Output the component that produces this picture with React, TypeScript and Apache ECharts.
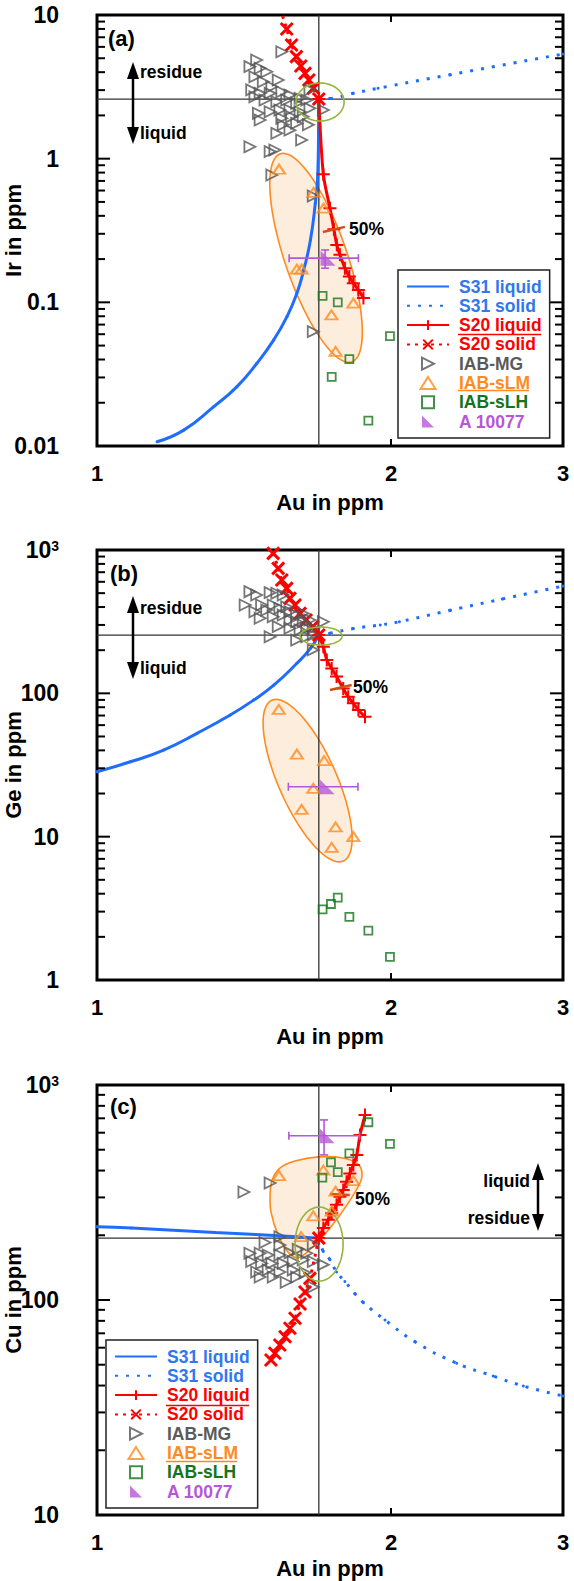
import React, { useEffect, useRef } from "react";
import * as echarts from "echarts";

// ---------------- data ----------------
const AU_MIN = 1;
const AU_MAX = 3;
const AU_REF = 1.687;
const X_TICK_LABELS = [1, 2, 3];
const X_INNER_TICKS = [2];

// (a) Ir in ppm
const A_Y_RANGE = [0.01, 10];
const A_Y_REF = 2.6;
const A_S31_LIQUID = [[1.152, 0.0107], [1.227, 0.0129], [1.317, 0.0188], [1.391, 0.0259], [1.458, 0.0377], [1.517, 0.0548], [1.565, 0.0795], [1.602, 0.1157], [1.628, 0.168], [1.654, 0.272], [1.673, 0.489], [1.683, 0.791], [1.686, 1.58], [1.687, 2.6]];
const A_S31_SOLID = [[1.687, 2.6], [1.73, 2.62], [1.83, 2.85], [1.94, 3.09], [2.3, 3.84], [3.0, 5.35]];
const A_S20_LIQUID = [[1.687, 2.6], [1.705, 0.779], [1.732, 0.452], [1.748, 0.323], [1.76, 0.251], [1.773, 0.214], [1.794, 0.173], [1.813, 0.151], [1.83, 0.136], [1.852, 0.122], [1.874, 0.107]];
const A_S20_SOLID = [[1.549, 9.84], [1.564, 7.99], [1.582, 6.18], [1.6, 5.13], [1.617, 4.42], [1.633, 3.92], [1.648, 3.53], [1.666, 3.1], [1.687, 2.6]];
const A_MG = [[1.546, 5.55], [1.457, 4.86], [1.434, 4.37], [1.469, 4.26], [1.492, 4.03], [1.533, 3.53], [1.451, 3.72], [1.48, 3.43], [1.51, 3.17], [1.44, 3.01], [1.469, 2.85], [1.504, 2.85], [1.546, 2.92], [1.576, 2.77], [1.614, 2.63], [1.652, 3.01], [1.451, 2.7], [1.486, 2.56], [1.528, 2.49], [1.564, 2.56], [1.601, 2.43], [1.64, 2.56], [1.705, 2.18], [1.463, 2.07], [1.504, 2.12], [1.539, 2.18], [1.576, 2.18], [1.614, 2.12], [1.652, 2.24], [1.469, 1.86], [1.546, 1.91], [1.582, 1.96], [1.626, 1.96], [1.551, 1.72], [1.601, 1.76], [1.646, 1.72], [1.528, 1.5], [1.576, 1.58], [1.62, 1.35], [1.434, 1.21], [1.504, 1.12], [1.521, 1.15], [1.51, 0.77], [1.665, 0.55], [1.665, 0.0625]];
const A_SLM = [[1.536, 0.844], [1.666, 0.582], [1.706, 0.452], [1.602, 0.17], [1.62, 0.17], [1.83, 0.0986], [1.738, 0.0817], [1.755, 0.0455]];
const A_SLH = [[1.702, 0.111], [1.764, 0.1], [1.995, 0.0581], [1.813, 0.0402], [1.739, 0.0303], [1.896, 0.015]];
const A_A10077 = [1.712, 0.203];
const A_ERR_AU = [1.573, 1.852];
const A_ERR_Y = [0.1727, 0.2315];
const A_MARK50 = [[1.703, 0.309], [1.794, 0.335]];
const A_FIELD_CENTER = [1.676, 0.204];
const A_RING_CENTER = [1.692, 2.48];

// (b) Ge in ppm
const B_Y_RANGE = [1, 1000];
const B_Y_REF = 255;
const B_S31_LIQUID = [[1.0, 28.4], [1.082, 33.3], [1.17, 40.2], [1.266, 52.6], [1.369, 70.6], [1.447, 89.8], [1.517, 114], [1.602, 162], [1.654, 206], [1.687, 255]];
const B_S31_SOLID = [[1.687, 255], [1.73, 262], [1.83, 283], [1.95, 300], [2.04, 316], [2.3, 380], [2.6, 455], [3.0, 560]];
const B_S20_LIQUID = [[1.687, 255], [1.705, 211], [1.719, 171], [1.739, 149], [1.759, 131], [1.787, 108], [1.808, 94.7], [1.83, 85.2], [1.852, 76.5], [1.881, 68.7]];
const B_S20_SOLID = [[1.515, 948], [1.533, 745], [1.546, 618], [1.564, 540], [1.576, 460], [1.595, 413], [1.614, 361], [1.637, 325], [1.663, 292], [1.687, 255]];
const B_MG = [[1.434, 512], [1.418, 413], [1.457, 485], [1.504, 504], [1.528, 499], [1.551, 485], [1.451, 371], [1.474, 413], [1.492, 381], [1.515, 413], [1.539, 392], [1.564, 402], [1.576, 371], [1.469, 334], [1.515, 342], [1.533, 292], [1.551, 352], [1.576, 325], [1.601, 352], [1.626, 361], [1.601, 316], [1.626, 316], [1.652, 325], [1.576, 284], [1.614, 277], [1.64, 284], [1.665, 284], [1.705, 316], [1.504, 248], [1.601, 235], [1.64, 248], [1.665, 255], [1.665, 201]];
const B_SLM = [[1.535, 77.3], [1.602, 37.7], [1.708, 33.9], [1.665, 21.7], [1.62, 15.5], [1.755, 11.7], [1.83, 9.99], [1.739, 8.42]];
const B_SLH = [[1.702, 3.11], [1.736, 3.39], [1.764, 3.75], [1.813, 2.76], [1.896, 2.21], [1.995, 1.45]];
const B_A10077 = [1.708, 22.3];
const B_ERR_AU = [1.57, 1.85];
const B_ERR_Y: number[] | null = null;
const B_MARK50 = [[1.732, 105.5], [1.823, 114.3]];
const B_FIELD_CENTER = [1.643, 24.6];
const B_RING_CENTER = [1.696, 251];

// (c) Cu in ppm
const C_Y_RANGE = [10, 1000];
const C_Y_REF = 194;
const C_S31_LIQUID = [[1.0, 219], [1.085, 216], [1.321, 206], [1.601, 197], [1.687, 194]];
const C_S31_SOLID = [[1.687, 194], [1.705, 168], [1.732, 154], [1.759, 135], [1.794, 122], [1.837, 107], [1.874, 97.2], [1.972, 80.7], [2.116, 64.0], [2.335, 50.8], [2.545, 44.3], [2.732, 39.8], [3.0, 35.8]];
const C_S20_LIQUID = [[1.687, 194], [1.705, 216], [1.725, 236], [1.739, 253], [1.759, 277], [1.773, 302], [1.787, 325], [1.801, 355], [1.815, 388], [1.83, 425], [1.845, 473], [1.859, 585], [1.881, 725]];
const C_S20_SOLID = [[1.687, 194], [1.652, 126], [1.633, 109], [1.614, 95.8], [1.595, 82.2], [1.576, 73.9], [1.558, 67.5], [1.539, 61.8], [1.521, 56.5], [1.507, 52.6]];
const C_MG = [[1.414, 318], [1.504, 350], [1.539, 197], [1.486, 185], [1.539, 180], [1.665, 182], [1.434, 165], [1.469, 165], [1.497, 162], [1.539, 162], [1.576, 166], [1.607, 172], [1.64, 165], [1.44, 151], [1.474, 148], [1.51, 148], [1.551, 148], [1.588, 151], [1.626, 154], [1.665, 151], [1.705, 146], [1.457, 135], [1.497, 138], [1.539, 135], [1.588, 138], [1.633, 134], [1.469, 128], [1.515, 128], [1.601, 128], [1.665, 115], [1.562, 121]];
const C_SLM = [[1.536, 379], [1.705, 402], [1.83, 359], [1.755, 321], [1.739, 259], [1.665, 246], [1.618, 197]];
const C_SLH = [[1.896, 671], [1.995, 532], [1.813, 481], [1.736, 437], [1.764, 393], [1.701, 371]];
const C_A10077 = [1.708, 581];
const C_ERR_AU = [1.572, 1.857];
const C_ERR_Y = [473, 688];
const C_MARK50 = [[1.732, 311], [1.815, 308]];
const C_FIELD_OUTLINE = [[1.511, 361], [1.539, 411], [1.595, 443], [1.684, 463], [1.786, 458], [1.85, 429], [1.868, 390], [1.859, 350], [1.803, 277], [1.732, 216], [1.66, 175], [1.606, 157], [1.569, 167], [1.532, 201], [1.507, 257], [1.504, 308]];
const C_RING_CENTER = [1.688, 182];

const LEGEND_NAMES = ["S31 liquid", "S31 solid", "S20 liquid", "S20 solid", "IAB-MG", "IAB-sLM", "IAB-sLH", "A 10077"];

// ---------------- styles / layout ----------------
const FONT = "'Liberation Sans', Arial, Helvetica, sans-serif";
const BLUE = "#1f6dff";
const BLUE_TXT = "#2f78ee";
const RED = "#ff0000";
const GRAY = "#555555";
const ORANGE = "#ff8a1e";
const GREEN = "#16741c";
const PURPLE = "#b657d8";
const BROWN = "#d0501a";
const OLIVE = "#93b53a";
const FIELD_FILL = "rgba(251, 210, 170, 0.4)";
const LEGEND_COLORS = [BLUE_TXT, BLUE_TXT, RED, RED, "#5a5a5a", ORANGE, GREEN, PURPLE];

const AX_LEFT = 97;
const AX_W = 466;
const GRID_TOPS = [15, 550, 1085];
const GRID_HS = [431, 430, 430];
const X_NAME_GAPS = [45, 45, 42];
const FIELD_SHAPES = [{ rx: 31, ry: 110, rot: 19 }, { rx: 29, ry: 88, rot: 24 }];
const RING_SHAPES = [{ rx: 24, ry: 19 }, { rx: 21, ry: 9 }, { rx: 24, ry: 37 }];

const SYM_TRI_RIGHT = "path://M0,0 L10,5 L0,10 Z";
const SYM_TRI_UP = "path://M5,0 L10,8 L0,8 Z";
const SYM_SQUARE = "path://M0,0 L10,0 L10,10 L0,10 Z";
const SYM_PLUS = "path://M5,0 L5,10 M0,5 L10,5";
const SYM_X = "path://M0,0 L10,10 M10,0 L0,10";
const SYM_CORNER = "path://M0,0 L0,10 L10,10 Z";

const PANELS = [
  { yName: "Ir in ppm", yRange: A_Y_RANGE, yRef: A_Y_REF, s31l: A_S31_LIQUID, s31s: A_S31_SOLID, s20l: A_S20_LIQUID, s20s: A_S20_SOLID, mg: A_MG, slm: A_SLM, slh: A_SLH, a10077: A_A10077, errAu: A_ERR_AU, errY: A_ERR_Y, mark50: A_MARK50, fieldCenter: A_FIELD_CENTER, fieldOutline: null as number[][] | null, ring: A_RING_CENTER },
  { yName: "Ge in ppm", yRange: B_Y_RANGE, yRef: B_Y_REF, s31l: B_S31_LIQUID, s31s: B_S31_SOLID, s20l: B_S20_LIQUID, s20s: B_S20_SOLID, mg: B_MG, slm: B_SLM, slh: B_SLH, a10077: B_A10077, errAu: B_ERR_AU, errY: B_ERR_Y, mark50: B_MARK50, fieldCenter: B_FIELD_CENTER, fieldOutline: null as number[][] | null, ring: B_RING_CENTER },
  { yName: "Cu in ppm", yRange: C_Y_RANGE, yRef: C_Y_REF, s31l: C_S31_LIQUID, s31s: C_S31_SOLID, s20l: C_S20_LIQUID, s20s: C_S20_SOLID, mg: C_MG, slm: C_SLM, slh: C_SLH, a10077: C_A10077, errAu: C_ERR_AU, errY: C_ERR_Y, mark50: C_MARK50, fieldCenter: null as number[] | null, fieldOutline: C_FIELD_OUTLINE, ring: C_RING_CENTER },
];

function ellipsePts(cx: number, cy: number, rx: number, ry: number, rotDeg: number) {
  const r = (rotDeg * Math.PI) / 180;
  const cs = Math.cos(r);
  const sn = Math.sin(r);
  const pts: number[][] = [];
  for (let k = 0; k < 90; k++) {
    const t = (k / 90) * 2 * Math.PI;
    const ex = rx * Math.cos(t);
    const ey = ry * Math.sin(t);
    pts.push([cx + ex * cs + ey * sn, cy - ex * sn + ey * cs]);
  }
  return pts;
}

function logTicks(min: number, max: number) {
  const out: number[][] = [];
  const e0 = Math.round(Math.log10(min));
  const e1 = Math.round(Math.log10(max));
  for (let e = e0; e < e1; e++) {
    for (let m = 1; m <= 9; m++) {
      if (m === 1 && e === e0) continue;
      out.push([Number((m * Math.pow(10, e)).toPrecision(3)), m === 1 ? 1 : 0]);
    }
  }
  return out;
}

function txtStyle(text: string, size: number, align: string, vAlign: string, color = "#000") {
  return {
    text,
    fill: color,
    fontSize: size,
    fontWeight: "bold",
    fontFamily: FONT,
    textAlign: align,
    align,
    textVerticalAlign: vAlign,
    verticalAlign: vAlign,
  };
}

function panelSeries(P: any, i: number) {
  const ax = { xAxisIndex: i, yAxisIndex: i };
  const [yMin, yMax] = P.yRange;
  const s: any[] = [];
  // composition field
  if (P.fieldCenter) {
    const f = FIELD_SHAPES[i];
    s.push({
      type: "custom", ...ax, name: "field", silent: true, z: 1,
      data: [P.fieldCenter],
      renderItem: (_p: any, api: any) => {
        const c = api.coord([api.value(0), api.value(1)]);
        return { type: "polygon", shape: { points: ellipsePts(c[0], c[1], f.rx, f.ry, f.rot) }, style: { fill: FIELD_FILL, stroke: ORANGE, lineWidth: 1.6 } };
      },
    });
  } else if (P.fieldOutline) {
    const outline = P.fieldOutline;
    s.push({
      type: "custom", ...ax, name: "field", silent: true, z: 1,
      data: outline,
      renderItem: (p: any, api: any) => {
        if (p.dataIndex !== 0) return null;
        return { type: "polygon", shape: { points: outline.map((q: number[]) => api.coord(q)), smooth: 0.35 }, style: { fill: FIELD_FILL, stroke: ORANGE, lineWidth: 1.6 } };
      },
    });
  }
  // reference cross
  s.push({ type: "line", ...ax, name: "ref-v", data: [[AU_REF, yMin], [AU_REF, yMax]], symbol: "none", silent: true, z: 2, lineStyle: { color: "#333", width: 1.3 } });
  s.push({ type: "line", ...ax, name: "ref-h", data: [[AU_MIN, P.yRef], [AU_MAX, P.yRef]], symbol: "none", silent: true, z: 2, lineStyle: { color: "#333", width: 1.3 } });
  // model curves
  s.push({ type: "line", ...ax, name: "S31 liquid", data: P.s31l, smooth: 0.5, symbol: "circle", symbolSize: 3, z: 3, lineStyle: { color: BLUE, width: 3 }, itemStyle: { color: BLUE } });
  s.push({ type: "line", ...ax, name: "S31 solid", data: P.s31s, smooth: 0.5, symbol: "circle", symbolSize: 3, z: 3, lineStyle: { color: BLUE, width: 3, type: [3, 8] }, itemStyle: { color: BLUE } });
  s.push({ type: "line", ...ax, name: "S20 liquid", data: P.s20l, smooth: 0.3, symbol: SYM_PLUS, symbolSize: 13, z: 3.2, lineStyle: { color: RED, width: 3 }, itemStyle: { color: RED, borderColor: RED, borderWidth: 2 } });
  s.push({
    type: "line", ...ax, name: "S20 solid", smooth: 0.3, symbol: SYM_X, symbolSize: 12, z: 3.2,
    data: P.s20s.map((d: number[], k: number) => (k === 0 && i === 0 ? { value: d, symbol: "none" } : d)),
    lineStyle: { color: RED, width: 3, type: [3, 5] }, itemStyle: { color: RED, borderColor: RED, borderWidth: 3 },
  });
  s.push({ type: "line", ...ax, name: "50% mark", data: P.mark50, symbol: "none", silent: true, z: 3.5, lineStyle: { color: BROWN, width: 2.5 } });
  // meteorites
  s.push({ type: "scatter", ...ax, name: "IAB-MG", data: P.mg, symbol: SYM_TRI_RIGHT, symbolSize: [11, 11], z: 4, itemStyle: { color: "rgba(255,255,255,0)", borderColor: GRAY, borderWidth: 1.8 } });
  s.push({ type: "scatter", ...ax, name: "IAB-sLM", data: P.slm, symbol: SYM_TRI_UP, symbolSize: [12, 9], z: 4, itemStyle: { color: "rgba(255,255,255,0)", borderColor: ORANGE, borderWidth: 2 } });
  s.push({ type: "scatter", ...ax, name: "IAB-sLH", data: P.slh, symbol: SYM_SQUARE, symbolSize: 8, z: 4, itemStyle: { color: "rgba(255,255,255,0)", borderColor: GREEN, borderWidth: 1.8 } });
  // green ring
  const rg = RING_SHAPES[i];
  s.push({
    type: "custom", ...ax, name: "ring", silent: true, z: 5, data: [P.ring],
    renderItem: (_p: any, api: any) => {
      const c = api.coord([api.value(0), api.value(1)]);
      return { type: "polygon", shape: { points: ellipsePts(c[0], c[1], rg.rx, rg.ry, 0) }, style: { fill: "none", stroke: OLIVE, lineWidth: 1.6 } };
    },
  });
  // error bars for A 10077
  const errRow = [P.a10077[0], P.a10077[1], P.errAu[0], P.errAu[1], P.errY ? P.errY[0] : P.a10077[1], P.errY ? P.errY[1] : P.a10077[1]];
  s.push({
    type: "custom", ...ax, name: "err", silent: true, z: 6, data: [errRow],
    renderItem: (_p: any, api: any) => {
      const x = api.value(0), y = api.value(1);
      const a = api.coord([api.value(2), y]);
      const b = api.coord([api.value(3), y]);
      const st = { stroke: PURPLE, lineWidth: 1.6 };
      const ch: any[] = [
        { type: "line", shape: { x1: a[0], y1: a[1], x2: b[0], y2: b[1] }, style: st },
        { type: "line", shape: { x1: a[0], y1: a[1] - 4, x2: a[0], y2: a[1] + 4 }, style: st },
        { type: "line", shape: { x1: b[0], y1: b[1] - 4, x2: b[0], y2: b[1] + 4 }, style: st },
      ];
      if (api.value(4) !== api.value(5)) {
        const c = api.coord([x, api.value(4)]);
        const d = api.coord([x, api.value(5)]);
        ch.push({ type: "line", shape: { x1: c[0], y1: c[1], x2: d[0], y2: d[1] }, style: st });
        ch.push({ type: "line", shape: { x1: c[0] - 4, y1: c[1], x2: c[0] + 4, y2: c[1] }, style: st });
        ch.push({ type: "line", shape: { x1: d[0] - 4, y1: d[1], x2: d[0] + 4, y2: d[1] }, style: st });
      }
      return { type: "group", children: ch };
    },
  });
  s.push({ type: "scatter", ...ax, name: "A 10077", data: [P.a10077], symbol: SYM_CORNER, symbolSize: 15, symbolOffset: [3, 0], z: 6.5, itemStyle: { color: PURPLE } });
  // inner ticks
  const tickData: number[][] = logTicks(yMin, yMax).map((t) => [AU_MIN, t[0], t[1]]);
  X_INNER_TICKS.forEach((v) => tickData.push([v, yMin, 2]));
  s.push({
    type: "custom", ...ax, name: "ticks", silent: true, z: 7, data: tickData,
    renderItem: (_p: any, api: any) => {
      const kind = api.value(2);
      const st = { stroke: "#000", lineWidth: 2 };
      if (kind === 2) {
        const b = api.coord([api.value(0), yMin]);
        const t = api.coord([api.value(0), yMax]);
        return {
          type: "group", children: [
            { type: "line", shape: { x1: b[0], y1: b[1], x2: b[0], y2: b[1] - 7 }, style: st },
            { type: "line", shape: { x1: t[0], y1: t[1], x2: t[0], y2: t[1] + 7 }, style: st },
          ],
        };
      }
      const v = api.value(1);
      const L = api.coord([AU_MIN, v]);
      const R = api.coord([AU_MAX, v]);
      const len = kind === 1 ? 13 : 8;
      return {
        type: "group", children: [
          { type: "line", shape: { x1: L[0], y1: L[1], x2: L[0] + len, y2: L[1] }, style: st },
          { type: "line", shape: { x1: R[0], y1: R[1], x2: R[0] - len, y2: R[1] }, style: st },
        ],
      };
    },
  });
  // x tick labels
  s.push({
    type: "custom", ...ax, name: "xlabels", silent: true, z: 7, data: X_TICK_LABELS.map((v) => [v, yMin]),
    renderItem: (_p: any, api: any) => {
      const p = api.coord([api.value(0), api.value(1)]);
      return { type: "text", x: p[0], y: p[1] + 16, style: txtStyle(String(api.value(0)), 22, "center", "top") };
    },
  });
  return s;
}

function legendAt(left: number, top: number) {
  return {
    left, top, orient: "vertical", z: 10,
    itemWidth: 42, itemHeight: 12, itemGap: 0.3,
    padding: [7, 8, 7, 8],
    borderColor: "#222", borderWidth: 1.5, backgroundColor: "#fff",
    selectedMode: false,
    symbolKeepAspect: true,
    textStyle: { fontSize: 17.5, fontWeight: "bold", fontFamily: FONT, lineHeight: 19, padding: [0, 0, 0, 5] },
    data: LEGEND_NAMES.map((n, k) => ({
      name: n,
      textStyle: { color: LEGEND_COLORS[k] },
      ...(n.startsWith("S31") ? { itemStyle: { opacity: 0 } } : {}),
    })),
  };
}

function arrow(x: number, top: number, bottom: number) {
  const hw = 6, hh = 17;
  return [
    { type: "line", z: 20, shape: { x1: x, y1: top + hh - 2, x2: x, y2: bottom - hh + 2 }, style: { stroke: "#000", lineWidth: 2.5 } },
    { type: "polygon", z: 20, shape: { points: [[x, top], [x - hw, top + hh], [x + hw, top + hh]] }, style: { fill: "#000" } },
    { type: "polygon", z: 20, shape: { points: [[x, bottom], [x - hw, bottom - hh], [x + hw, bottom - hh]] }, style: { fill: "#000" } },
  ];
}

function gtext(x: number, y: number, text: string, size: number, align = "left", color = "#000") {
  return { type: "text", x, y, z: 20, style: txtStyle(text, size, align, "middle", color) };
}

function underline(x: number, y: number, w: number, color: string) {
  return { type: "line", z: 20, shape: { x1: x, y1: y, x2: x + w, y2: y }, style: { stroke: color, lineWidth: 1.5 } };
}

function graphicElements() {
  return [
    gtext(108, 38, "(a)", 22),
    gtext(110, 573, "(b)", 22),
    gtext(110, 1106, "(c)", 22),
    ...arrow(133, 62, 144),
    gtext(140, 72, "residue", 17.5),
    gtext(140, 133, "liquid", 17.5),
    ...arrow(133, 596, 679),
    gtext(140, 608, "residue", 17.5),
    gtext(140, 668, "liquid", 17.5),
    ...arrow(538, 1163, 1231),
    gtext(530, 1181, "liquid", 17.5, "right"),
    gtext(530, 1218, "residue", 17.5, "right"),
    gtext(349, 229, "50%", 17.5),
    gtext(353, 687, "50%", 17.5),
    gtext(355, 1199, "50%", 17.5),
    underline(458, 334.5, 83, RED),
    underline(458, 390.5, 71, ORANGE),
    underline(166, 1405.5, 83, RED),
    underline(166, 1461.5, 71, ORANGE),
  ];
}

function buildOption() {
  const series: any[] = [];
  PANELS.forEach((P, i) => series.push(...panelSeries(P, i)));
  const nameStyle = { fontSize: 22, fontWeight: "bold", fontFamily: FONT, color: "#000" };
  return {
    animation: false,
    backgroundColor: "#fff",
    grid: GRID_TOPS.map((t, i) => ({ left: AX_LEFT, width: AX_W, top: t, height: GRID_HS[i], show: true, borderColor: "#000", borderWidth: 3, backgroundColor: "rgba(0,0,0,0)", containLabel: false, outerBoundsMode: "none" })),
    xAxis: PANELS.map((_P, i) => ({
      type: "log", logBase: 10, gridIndex: i, min: AU_MIN, max: AU_MAX,
      name: "Au in ppm", nameLocation: "middle", nameGap: X_NAME_GAPS[i], nameMoveOverlap: false, nameTextStyle: nameStyle,
      axisLine: { show: false }, axisTick: { show: false }, axisLabel: { show: false }, splitLine: { show: false },
    })),
    yAxis: PANELS.map((P, i) => ({
      type: "log", logBase: 10, gridIndex: i, min: P.yRange[0], max: P.yRange[1],
      name: P.yName, nameLocation: "middle", nameGap: 73, nameMoveOverlap: false, nameTextStyle: nameStyle,
      axisLine: { show: false }, axisTick: { show: false }, splitLine: { show: false },
      axisLabel: {
        margin: 38, fontSize: 23, fontWeight: "bold", fontFamily: FONT, color: "#000",
        formatter: (v: number) => (v >= 999 ? "{n|10}{s|3}" : String(Number(v.toPrecision(3)))),
        rich: {
          n: { fontSize: 23, fontWeight: "bold", fontFamily: FONT, color: "#000" },
          s: { fontSize: 14, fontWeight: "bold", fontFamily: FONT, color: "#000", verticalAlign: "top" },
        },
      },
    })),
    legend: [legendAt(398, 270), legendAt(106, 1340)],
    graphic: { elements: graphicElements() },
    series,
  };
}

export default function App() {
  const ref = useRef<HTMLDivElement>(null);
  useEffect(() => {
    const chart = echarts.init(ref.current as HTMLDivElement, undefined, { renderer: "svg" });
    chart.setOption(buildOption() as any);
    return () => chart.dispose();
  }, []);
  return <div ref={ref} style={{ position: "absolute", left: 0, top: 0, width: 574, height: 1581, background: "#fff" }} />;
}
